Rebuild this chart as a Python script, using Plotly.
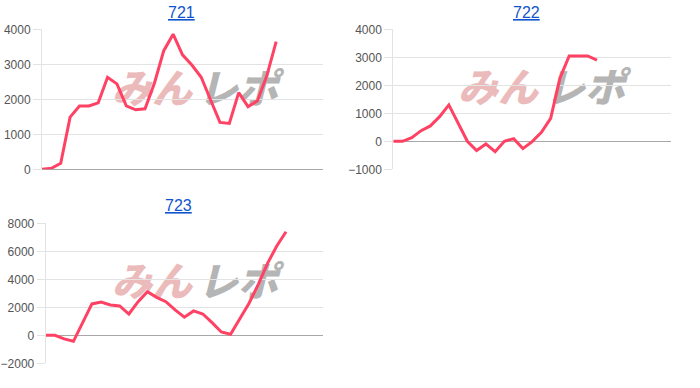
import plotly.graph_objects as go

titles = ["721", "722", "723"]
v721 = [0, 30, 170, 1490, 1810, 1810, 1900, 2630, 2440, 1810, 1700, 1730, 2460, 3390,
        3860, 3270, 2980, 2630, 1980, 1340, 1310, 2190, 1790, 1960, 2670, 3650]
v722 = [0, 0, 130, 380, 550, 880, 1300, 640, 0, -330, -95, -370, 0, 95, -260, -10,
        320, 820, 2250, 3050, 3050, 3050, 2900]
v723 = [0, 0, -260, -430, 900, 2240, 2380, 2170, 2100, 1520, 2400, 3120, 2710, 2400,
        1810, 1290, 1740, 1520, 900, 240, 70, 1140, 2290, 3640, 5140, 6380, 7400]
series = [v721, v722, v723]
yranges = [[0, 4000], [-1000, 4000], [-2000, 8000]]
ydticks = [1000, 1000, 2000]

W, H = 700, 388
LINE = "#ff4264"
GRID = "#e3e3e3"
ZERO = "#a8a8a8"
FONT = "Liberation Sans, Arial, sans-serif"

# panel geometry in pixels: (x0, x1, ytop, ybottom)
panels = [(42, 323, 29.3, 169.3), (393.3, 671, 29.3, 169.3), (45.7, 323, 223.3, 363.3)]
title_pos = [(181, 12), (526, 12), (178, 205.5)]
wm_pos = [(152, 238, 92), (498, 585, 91), (152, 238, 285)]

fig = go.Figure()
layout = dict(width=W, height=H, margin=dict(l=0, r=0, t=0, b=0, autoexpand=False),
              paper_bgcolor="white", plot_bgcolor="white", showlegend=False,
              template="none", annotations=[], shapes=[])

for i, (vals, yr, dt) in enumerate(zip(series, yranges, ydticks)):
    n = i + 1
    xa = "x" if n == 1 else f"x{n}"
    ya = "y" if n == 1 else f"y{n}"
    fig.add_trace(go.Scatter(x=list(range(len(vals))), y=vals, mode="lines",
                             line=dict(color=LINE, width=3), xaxis=xa, yaxis=ya,
                             hoverinfo="skip"))
    x0, x1, yt, yb = panels[i]
    layout[f"xaxis{'' if n == 1 else n}"] = dict(
        domain=[x0 / W, x1 / W], range=[0, 30], showgrid=False, zeroline=False,
        showticklabels=False, ticks="", showline=False, anchor=ya, automargin=False)
    layout[f"yaxis{'' if n == 1 else n}"] = dict(
        domain=[1 - yb / H, 1 - yt / H], range=yr, dtick=dt, tick0=0,
        showgrid=True, gridcolor=GRID, gridwidth=1,
        zeroline=True, zerolinecolor=ZERO, zerolinewidth=1,
        showline=True, linecolor=GRID, linewidth=1,
        ticks="outside", ticklen=8, tickcolor=GRID,
        tickfont=dict(family=FONT, size=12, color="#555555"),
        anchor=xa, fixedrange=True, automargin=False)
    tx, ty = title_pos[i]
    layout["annotations"].append(dict(
        text=f"<u>{titles[i]}</u>", x=tx / W, y=1 - ty / H, xref="paper", yref="paper",
        showarrow=False, xanchor="center", yanchor="middle",
        font=dict(family=FONT, size=16, color="#1155cc")))
    px, gx, wy = wm_pos[i]
    for txt, cx, col in (("みん", px, "#ebbaba"), ("レポ", gx, "#b5b5b5")):
        layout["shapes"].append(dict(
            type="rect", xref="paper", yref="paper",
            x0=(cx - 45) / W, x1=(cx + 45) / W, y0=1 - (wy + 18) / H, y1=1 - (wy - 18) / H,
            line=dict(width=0), fillcolor="rgba(0,0,0,0)", layer="between",
            label=dict(text=f"<i>{txt}</i>", textposition="middle center",
                       font=dict(family="Noto Sans CJK JP", size=40, color=col,
                                 weight=900, style="italic"))))

fig.update_layout(**layout)
fig.write_html("out.html")
